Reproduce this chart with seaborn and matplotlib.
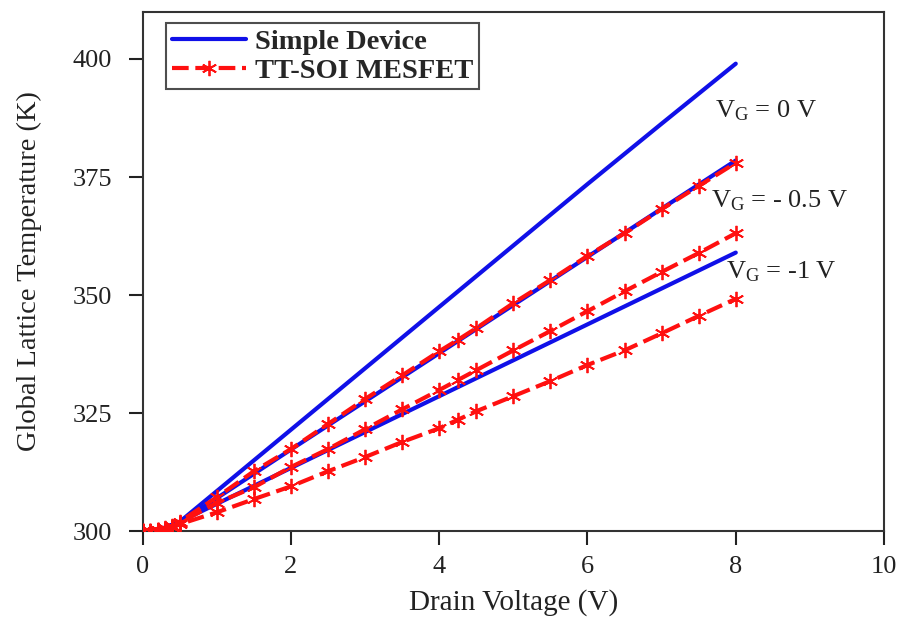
import numpy as np
import pandas as pd
import matplotlib
matplotlib.use("Agg")
import matplotlib.pyplot as plt
import seaborn as sns

sns.set_style("ticks")
plt.rcParams['font.family'] = ['Liberation Serif', 'DejaVu Serif']
plt.rcParams['mathtext.fontset'] = 'custom'
plt.rcParams['mathtext.rm'] = 'Liberation Serif'
plt.rcParams['mathtext.it'] = 'Liberation Serif:italic'

# Simple device (blue, solid)
x_simple = [0, 0.25, 0.5, 1, 2, 3, 4, 5, 6, 7, 8]
simple_vg0 = [300, 300.5, 302, 308.5, 321.5, 334.5, 347.5, 360.5, 373.5, 386.3, 399]
simple_vg05 = [300, 300.4, 302, 307, 317.3, 327.5, 337.7, 347.9, 358.1, 368.3, 378.5]
simple_vg1 = [300, 300.3, 302, 305.8, 313.4, 321, 328.6, 336.2, 343.8, 351.4, 359]

# TT-SOI MESFET (red, dashed with asterisks)
x_tt = [0, 0.1, 0.2, 0.3, 0.4, 0.5, 1, 1.5, 2, 2.5, 3, 3.5, 4, 4.25, 4.5, 5, 5.5, 6, 6.5, 7, 7.5, 8]
tt_vg0 = [300, 300.1, 300.3, 300.6, 301.1, 302, 307.2, 312.7, 317.4, 322.7, 328, 333, 338.1, 340.5,
          343, 348.3, 353.2, 358.3, 363.1, 368.2, 373.1, 378]
tt_vg05 = [300, 300.1, 300.2, 300.5, 300.9, 301.8, 306, 309.3, 313.6, 317.4, 321.6, 325.8, 329.9, 332.0,
           334.1, 338.3, 342.4, 346.6, 350.8, 354.9, 358.9, 363.1]
tt_vg1 = [300, 300.1, 300.2, 300.4, 300.8, 301.5, 304, 306.8, 309.5, 312.7, 315.7, 318.9, 321.8, 323.6,
          325.4, 328.6, 331.8, 335.2, 338.3, 341.9, 345.6, 349.2]

labels_ann = [r'V$_\mathrm{G}$ = 0 V', r'V$_\mathrm{G}$ = - 0.5 V', r'V$_\mathrm{G}$ = -1 V']
ann_pos = [(7.72, 389), (7.67, 370), (7.87, 355)]

xticks = [0, 2, 4, 6, 8, 10]
yticks = [300, 325, 350, 375, 400]

fig = plt.figure(figsize=(9.03, 6.17), dpi=100)
ax = fig.add_axes([0.158, 0.139, 0.821, 0.842])

blue = '#1010e8'
red = '#ff1010'
for i, ys in enumerate([simple_vg0, simple_vg05, simple_vg1]):
    df = pd.DataFrame({'x': x_simple, 'y': ys})
    sns.lineplot(data=df, x='x', y='y', ax=ax, color=blue, lw=3,
                 label='Simple Device' if i == 0 else None, zorder=2)
for i, ys in enumerate([tt_vg0, tt_vg05, tt_vg1]):
    df = pd.DataFrame({'x': x_tt, 'y': ys})
    sns.lineplot(data=df, x='x', y='y', ax=ax, color=red, lw=3,
                 linestyle=(0, (4, 1.6)), marker=(6, 2, 0), markersize=11,
                 markeredgewidth=1.3, markeredgecolor=red,
                 label='TT-SOI MESFET' if i == 0 else None, zorder=3)

for t, (px, py) in zip(labels_ann, ann_pos):
    ax.text(px, py, t, fontsize=19, color='#222222', ha='left', va='center')

ax.set_xlim(0, 10)
ax.set_ylim(300, 410)
ax.set_xticks(xticks)
ax.set_yticks(yticks)
ax.tick_params(axis='both', labelsize=19, length=10, width=1.5, direction='out', colors='#222222')
ax.tick_params(axis='x', pad=8)
ax.tick_params(axis='y', pad=12)
for s in ax.spines.values():
    s.set_linewidth(1.5)
    s.set_color('#333333')
ax.set_xlabel('Drain Voltage (V)', fontsize=21, color='#222222', labelpad=8)
ax.set_ylabel('Global Lattice Temperature (K)', fontsize=20.5, color='#222222', labelpad=22)

leg = ax.legend(loc='upper left', bbox_to_anchor=(0.032, 0.978), prop={'weight': 'bold', 'size': 20.5},
                frameon=True, fancybox=False, edgecolor='#222222', handlelength=2.6,
                handletextpad=0.3, borderpad=0.2, labelspacing=0.1, borderaxespad=0)
leg.get_frame().set_linewidth(1.5)

fig.savefig('out.png', dpi=100)
